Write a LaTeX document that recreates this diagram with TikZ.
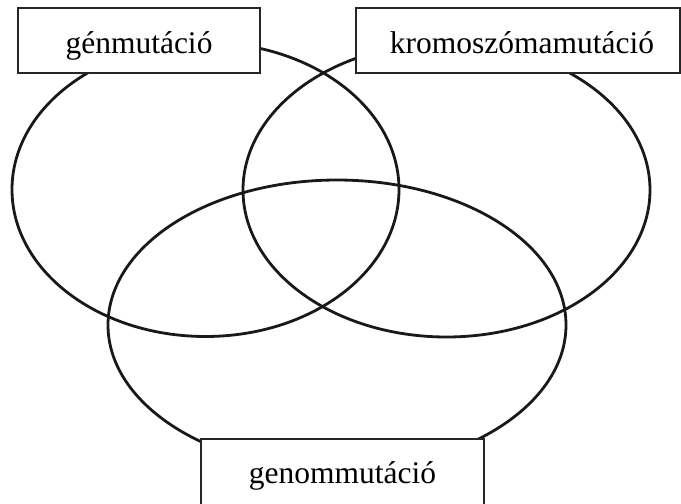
\documentclass[tikz,border=0pt]{standalone}
\usepackage{fontspec}
\setmainfont{Liberation Serif}
\begin{document}
\begin{tikzpicture}[x=1pt,y=-1pt,
  ring/.style={draw=black!90,line width=2.8pt},
  labelbox/.style={draw=black!85,line width=1.4pt,fill=white,rectangle,inner sep=0pt},
  lbl/.style={font=\fontsize{31.5}{36}\selectfont,anchor=base,inner sep=0pt}]
\useasboundingbox (0,0) rectangle (681,504);
\draw[ring] (205.5,189.5) ellipse [x radius=193.5, y radius=147];
\draw[ring] (446.5,190) ellipse [x radius=203.5, y radius=147];
\draw[ring] (337,325) ellipse [x radius=229, y radius=145];
\node[labelbox,minimum width=242pt,minimum height=65pt] (bg) at (139,40.5) {};
\node[labelbox,minimum width=324pt,minimum height=65pt] (bk) at (518,40.5) {};
\node[labelbox,minimum width=283pt,minimum height=68pt] (bn) at (342.5,473) {};
\node[lbl] (tg) at (139,53) {génmutáció};
\node[lbl] (tk) at (522,53) {kromoszómamutáció};
\node[lbl] (tn) at (342.5,483) {genommutáció};
\end{tikzpicture}
\end{document}
